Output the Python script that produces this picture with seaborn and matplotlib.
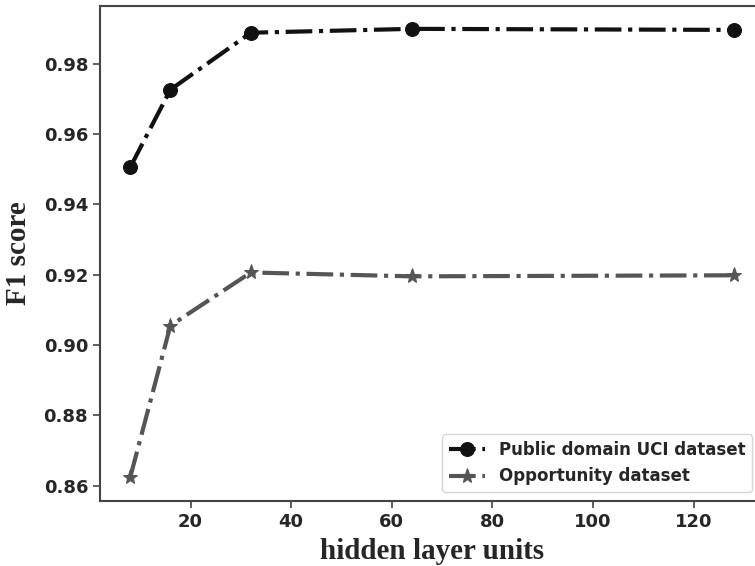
import matplotlib
matplotlib.use("Agg")
import matplotlib.pyplot as plt
import seaborn as sns
import pandas as pd

units = [8, 16, 32, 64, 128]
uci_f1 = [0.9505, 0.9726, 0.9888, 0.9899, 0.9896]
opp_f1 = [0.8623, 0.9055, 0.9206, 0.9195, 0.9198]
series_names = ["Public domain UCI dataset", "Opportunity dataset"]

sns.set_style("ticks")
plt.rcParams['font.family'] = ['DejaVu Sans']

fig = plt.figure(figsize=(7.55, 5.66), dpi=100)
W, H = 755, 566
ax = fig.add_axes([100 / W, (H - 501) / H, (764 - 100) / W, (501 - 6) / H])

df1 = pd.DataFrame({"units": units, "f1": uci_f1})
df2 = pd.DataFrame({"units": units, "f1": opp_f1})

sns.lineplot(data=df1, x="units", y="f1", ax=ax, color="#111111", marker="o",
             markersize=10, linewidth=3, linestyle="-.", label=series_names[0],
             markeredgecolor="#111111")
sns.lineplot(data=df2, x="units", y="f1", ax=ax, color="#555555", marker="*",
             markersize=11, linewidth=3, linestyle="-.", label=series_names[1],
             markeredgecolor="#555555")

ax.set_xlim(2, 134)
ax.set_ylim(0.8556, 0.9964)
ax.set_xticks([20, 40, 60, 80, 100, 120])
ax.set_yticks([0.86, 0.88, 0.90, 0.92, 0.94, 0.96, 0.98])
ax.set_yticklabels(["0.86", "0.88", "0.90", "0.92", "0.94", "0.96", "0.98"])
for lab in ax.get_xticklabels() + ax.get_yticklabels():
    lab.set_fontweight("bold")
    lab.set_fontsize(13)
ax.tick_params(length=5, width=1.2, color="#444444")
for sp in ax.spines.values():
    sp.set_color("#444444")
    sp.set_linewidth(1.5)

ax.set_xlabel("hidden layer units", fontfamily="Liberation Serif", fontweight="bold",
              fontsize=21, labelpad=5)
ax.set_ylabel("F1 score", fontfamily="Liberation Serif", fontweight="bold",
              fontsize=21, labelpad=8)

leg = ax.legend(loc="lower right", bbox_to_anchor=((752 - 100) / 664, 9 / 495),
                fontsize=12, frameon=True, borderaxespad=0.0, handlelength=2.2)
for t in leg.get_texts():
    t.set_fontweight("bold")

fig.savefig("out.png", dpi=100)
